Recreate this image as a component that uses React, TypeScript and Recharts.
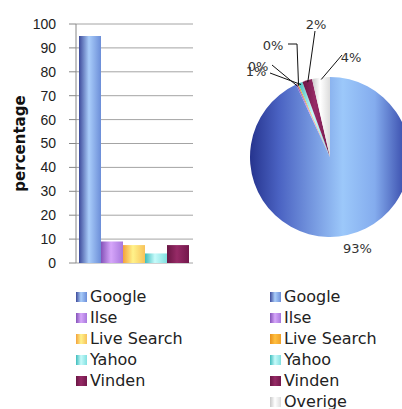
import React from "react"
import { BarChart, Bar, XAxis, YAxis, CartesianGrid, Legend, PieChart, Pie, Cell } from "recharts"

// bar chart (left)
const barSeries = ["Google", "Ilse", "Live Search", "Yahoo", "Vinden"]
const barValues = [95, 9, 7.5, 4, 7.5]
const yTicks = [0, 10, 20, 30, 40, 50, 60, 70, 80, 90, 100]

// pie chart (right)
const pieNames = ["Google", "Ilse", "Live Search", "Yahoo", "Vinden", "Overige"]
const pieValues = [93, 0.3, 0.2, 0.9, 2, 3.6]

// dark edge, light centre, mid edge
const shades: Record<string, string[]> = {
    Google: ["#3d4a9a", "#a9cdfa", "#6c8ed8"],
    Ilse: ["#8452b8", "#d6a6fa", "#a878dc"],
    "Live Search": ["#f3a23c", "#fff28a", "#f7c25a"],
    Yahoo: ["#3fbcbc", "#c6fafa", "#82e0e0"],
    Vinden: ["#6a1644", "#962a66", "#74184c"],
    Overige: ["#c8c8c8", "#ffffff", "#dcdcdc"],
}
const pieShades: Record<string, string[]> = {
    ...shades,
    "Live Search": ["#e8901c", "#ffc040", "#f0a028"],
}

const barData = [
    Object.fromEntries([["name", ""], ...barSeries.map((s, i) => [s, barValues[i]])]),
]
const pieData = pieNames.map((name, i) => ({ name, value: pieValues[i] }))

const RAD = Math.PI / 180
const font = "'DejaVu Sans', Verdana, sans-serif"

// label spots relative to the pie centre: text centre + leader start
const spots: Record<number, number[][]> = {
    1: [[-72, -91], [-58, -92]],
    2: [[-57, -112], [-42, -113], [-33, -113]],
    3: [[-74, -86], [-60, -84]],
    4: [[-14, -133], [-15, -126]],
    5: [[21, -100], [12, -102]],
}

function PieLabel(props: any) {
    const { cx, cy, midAngle, outerRadius, index, value } = props
    const text = Math.round(value) + "%"
    const ex = cx + (outerRadius - 2) * Math.cos(-midAngle * RAD)
    const ey = cy + (outerRadius - 2) * Math.sin(-midAngle * RAD)
    const spot = spots[index]
    if (!spot) {
        const tx = cx + (outerRadius + 18) * Math.cos(-midAngle * RAD) + 6
        const ty = cy + (outerRadius + 18) * Math.sin(-midAngle * RAD) - 4
        return (
            <text x={tx} y={ty} textAnchor="middle" dominantBaseline="central" fontFamily={font} fontSize={13} fill="#333">
                {text}
            </text>
        )
    }
    const pts = spot.slice(1).map(p => `${cx + p[0]},${cy + p[1]}`).join(" ") + ` ${ex},${ey}`
    return (
        <g>
            <polyline points={pts} fill="none" stroke="#111" strokeWidth={1} />
            <text x={cx + spot[0][0]} y={cy + spot[0][1]} textAnchor="middle" dominantBaseline="central" fontFamily={font} fontSize={13} fill="#333">
                {text}
            </text>
        </g>
    )
}

function LegendList({ names, colors }: { names: string[]; colors: Record<string, string[]> }) {
    return (
        <div style={{ fontFamily: font, fontSize: 16, lineHeight: "21px", color: "#222" }}>
            {names.map(n => (
                <div key={n} style={{ display: "flex", alignItems: "center", whiteSpace: "nowrap" }}>
                    <span
                        style={{
                            display: "inline-block",
                            width: 11,
                            height: 10,
                            marginRight: 3,
                            background: `linear-gradient(to right, ${colors[n][0]}, ${colors[n][1]} 45%, ${colors[n][2]})`,
                        }}
                    />
                    {n}
                </div>
            ))}
        </div>
    )
}

function Grad({ id, c }: { id: string; c: string[] }) {
    return (
        <linearGradient id={id} x1="0" y1="0" x2="1" y2="0">
            <stop offset="0%" stopColor={c[0]} />
            <stop offset="45%" stopColor={c[1]} />
            <stop offset="100%" stopColor={c[2]} />
        </linearGradient>
    )
}

export default function App() {
    return (
        <div style={{ position: "absolute", left: 0, top: 0, width: 402, height: 409, background: "#fff" }}>
            <div style={{ position: "absolute", left: 0, top: 0 }}>
                <BarChart
                    width={200}
                    height={409}
                    data={barData}
                    margin={{ top: 24, right: 7, bottom: 146, left: 0 }}
                    barGap={0}
                    barCategoryGap={3}
                >
                    <defs>
                        {barSeries.map((s, i) => <Grad key={s} id={"bar" + i} c={shades[s]} />)}
                    </defs>
                    <CartesianGrid vertical={false} stroke="#a4a4a4" />
                    <XAxis dataKey="name" tick={false} tickLine={false} axisLine={{ stroke: "#999" }} height={0} />
                    <YAxis
                        domain={[0, 100]}
                        ticks={yTicks}
                        interval={0}
                        width={76}
                        tickSize={7}
                        tickMargin={13}
                        axisLine={{ stroke: "#888" }}
                        tickLine={{ stroke: "#888" }}
                        tick={{ fill: "#222", fontSize: 14, fontFamily: "'Liberation Sans', Arial, sans-serif" }}
                        label={{
                            content: ({ viewBox }: any) => (
                                <text
                                    x={viewBox.x + 20}
                                    y={viewBox.y + viewBox.height / 2}
                                    transform={`rotate(-90 ${viewBox.x + 20} ${viewBox.y + viewBox.height / 2})`}
                                    textAnchor="middle"
                                    dominantBaseline="central"
                                    fontFamily={font}
                                    fontWeight="bold"
                                    fontSize={15}
                                    fill="#111"
                                >
                                    percentage
                                </text>
                            ),
                        }}
                    />
                    {barSeries.map((s, i) => (
                        <Bar key={s} dataKey={s} fill={`url(#bar${i})`} isAnimationActive={false} />
                    ))}
                    <Legend
                        layout="vertical"
                        align="center"
                        verticalAlign="middle"
                        wrapperStyle={{ left: 76, top: 286, width: "auto", height: "auto" }}
                        content={() => <LegendList names={barSeries} colors={shades} />}
                    />
                </BarChart>
            </div>
            <div style={{ position: "absolute", left: 200, top: 0 }}>
                <PieChart width={202} height={409}>
                    <defs>
                        <linearGradient id="pieGoogle" x1="0" y1="0" x2="1" y2="0">
                            <stop offset="0%" stopColor="#26348e" />
                            <stop offset="18%" stopColor="#4a62c2" />
                            <stop offset="58%" stopColor="#9cc8fa" />
                            <stop offset="78%" stopColor="#84acee" />
                            <stop offset="100%" stopColor="#2e3ea2" />
                        </linearGradient>
                        {pieNames.slice(1).map((s, i) => <Grad key={s} id={"pie" + (i + 1)} c={pieShades[s]} />)}
                    </defs>
                    <Pie
                        data={pieData}
                        dataKey="value"
                        nameKey="name"
                        cx={125}
                        cy={152}
                        outerRadius={80}
                        startAngle={90}
                        endAngle={-270}
                        stroke="none"
                        label={PieLabel}
                        labelLine={false}
                        isAnimationActive={false}
                    >
                        {pieData.map((d, i) => (
                            <Cell key={d.name} fill={i === 0 ? "url(#pieGoogle)" : `url(#pie${i})`} />
                        ))}
                    </Pie>
                    <Legend
                        layout="vertical"
                        align="center"
                        verticalAlign="middle"
                        wrapperStyle={{ left: 70, top: 286, width: "auto", height: "auto" }}
                        content={() => <LegendList names={pieNames} colors={pieShades} />}
                    />
                </PieChart>
            </div>
        </div>
    )
}
